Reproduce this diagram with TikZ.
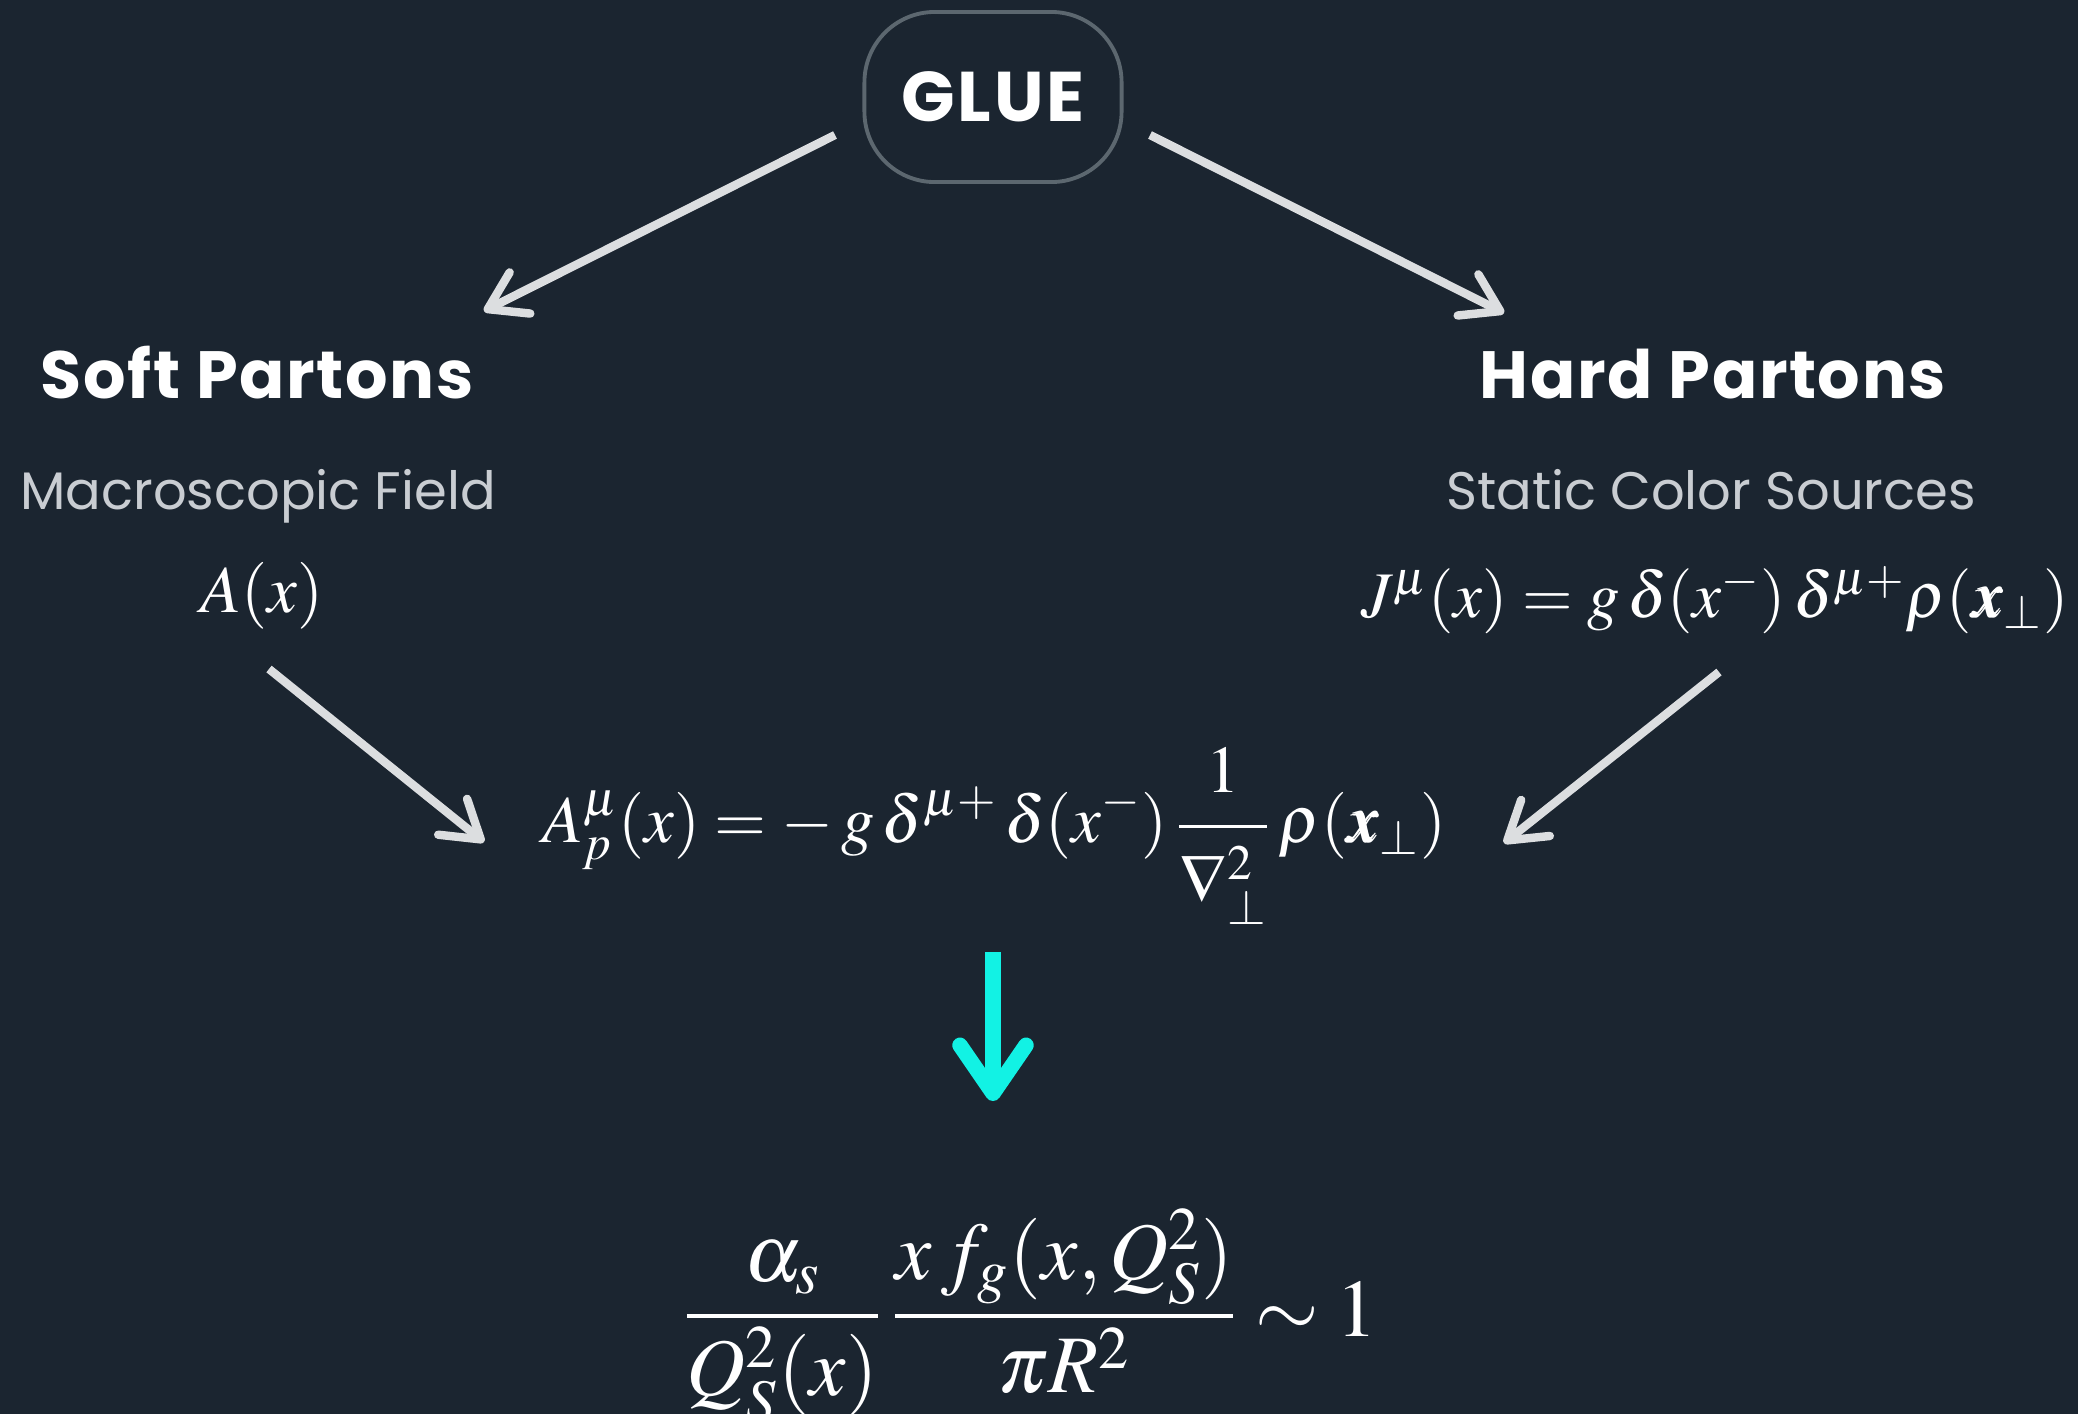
\documentclass[tikz,border=0pt]{standalone}
\usepackage{amsmath}
\usepackage{mathptmx}
\usepackage{bm}
\usepackage[no-math]{fontspec}
\setmainfont{Poppins}
\usetikzlibrary{arrows.meta}
\definecolor{bg}{HTML}{1B2530}
\definecolor{boxline}{HTML}{5C676F}
\definecolor{arrowgray}{HTML}{DCDEE0}
\definecolor{subgray}{HTML}{C9CDD2}
\definecolor{cyanarrow}{HTML}{12F2E4}
\tikzset{
  title/.style={text=white, font=\fontsize{19}{22}\selectfont\bfseries\addfontfeatures{LetterSpace=2.4}, inner sep=0pt, anchor=base},
  subtitle/.style={text=subgray, font=\fontsize{15}{18}\selectfont, inner sep=0pt, anchor=base},
  eq/.style={text=white, font=\fontsize{19}{23}\selectfont, inner sep=0pt},
  pill/.style={draw=boxline, line width=1.1pt, rounded corners=20pt, inner sep=0pt,
    minimum width=2.57cm, minimum height=1.70cm, text=white,
    font=\fontsize{20}{24}\selectfont\bfseries\addfontfeatures{LetterSpace=4}},
  flow/.style={draw=arrowgray, line width=2.4pt, line cap=butt,
    -{Straight Barb[length=3.6mm,width=4.6mm,round]}},
  result/.style={draw=cyanarrow, line width=4.4pt,
    -{Straight Barb[length=4.8mm,width=6.6mm,round]}},
}
\begin{document}
\begin{tikzpicture}[x=0.01cm,y=-0.01cm]
\useasboundingbox (0,0) rectangle (2078,1414);
\fill[bg] (0,0) rectangle (2078,1414);
\clip (0,0) rectangle (2078,1414);

% GLUE pill
\node[pill] (glue) at (993,97) {GLUE};

% left column
\node[title] (soft) at (257,398) {Soft Partons};
\node[subtitle] (softsub) at (258,509) {Macroscopic Field};
\node[eq] (softeq) at (262,596) {$A(x)$};

% right column
\node[title] (hard) at (1713,398) {Hard Partons};
\node[subtitle] (hardsub) at (1711,509) {Static Color Sources};
\node[eq, font=\fontsize{18.5}{22}\selectfont] (hardeq) at (1715,600) {$J^{\mu}(x) = g\,\delta(x^{-})\,\delta^{\mu +}\rho(\boldsymbol{x}_{\perp})$};

% middle equation
\node[eq] (ap) at (994,836) {$\displaystyle A^{\mu}_{p}(x) = -\,g\,\delta^{\mu +}\,\delta(x^{-})\,\frac{1\rule[-7pt]{0pt}{7pt}}{\rule{0pt}{19pt}\nabla_{\perp}^{2}}\,\rho(\boldsymbol{x}_{\perp})$};

% saturation condition
\node[eq, font=\fontsize{23.2}{27}\selectfont] (sat) at (1030,1316) {$\displaystyle \frac{\alpha_s}{Q_S^2(x)}\,\frac{x\,f_g(x,Q_S^2)}{\pi R^2}\sim 1$};

% arrow end points
\coordinate (g1) at (835,135);
\coordinate (s1) at (484,311);
\coordinate (g2) at (1150,135);
\coordinate (h1) at (1504,313);
\coordinate (s2) at (269,669);
\coordinate (a1) at (484,842);
\coordinate (h2) at (1719,672);
\coordinate (a2) at (1504,843);
\coordinate (c1) at (993,952);
\coordinate (c2) at (993,1101);

\draw[flow] (g1) -- (s1);
\draw[flow] (g2) -- (h1);
\draw[flow] (s2) -- (a1);
\draw[flow] (h2) -- (a2);
\draw[result] (c1) -- (c2);
\end{tikzpicture}
\end{document}
